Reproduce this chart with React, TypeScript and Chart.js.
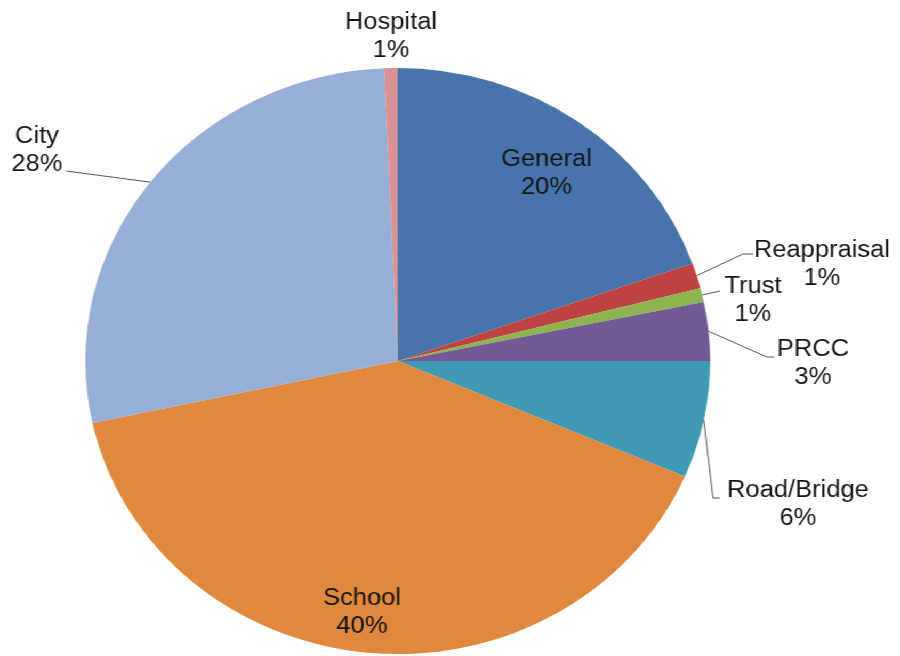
import React, { useEffect, useRef } from "react";
import { Chart, registerables } from "chart.js";

Chart.register(...registerables);

// ---- data ----
const categories = ["General", "Reappraisal", "Trust", "PRCC", "Road/Bridge", "School", "City", "Hospital"];
const values = [19.6, 1.4, 0.77, 3.23, 6.45, 40.15, 27.7, 0.7];
const colors = ["#4874AC", "#BE423F", "#8DB44E", "#735A94", "#409AB5", "#E0883E", "#95AFD7", "#D99396"];

// ---- layout (internal canvas units; canvas is stretched horizontally) ----
const INNER_W = 844;
const INNER_H = 656;
const SX = 900 / INNER_W;
const FONT = "23px 'Liberation Sans', Arial, sans-serif";
const TEXT_SX = 1.04;
const LINE_H = 28;

// label anchor: center x, first baseline y, optional leader path points
const labelAnchors: { x: number; y: number; line?: number[][] }[] = [
  { x: 512.5, y: 166 },
  { x: 770.8, y: 257, line: [[696.7, 254], [706.1, 254]] },
  { x: 706.1, y: 293, line: [[675.2, 291]] },
  { x: 762.4, y: 356, line: [[719.2, 357], [725.8, 357]] },
  { x: 748.3, y: 497, line: [[668.6, 498], [675.2, 498]] },
  { x: 339.5, y: 605 },
  { x: 34.7, y: 143, line: [[61.9, 171]] },
  { x: 366.7, y: 29 },
];

const labelPlugin = {
  id: "pieLabels",
  afterDatasetsDraw(chart: any) {
    const ctx = chart.ctx as CanvasRenderingContext2D;
    const meta = chart.getDatasetMeta(0);
    const total = values.reduce((a, b) => a + b, 0);
    ctx.save();
    meta.data.forEach((arc: any, i: number) => {
      const p = arc.getProps(["x", "y", "startAngle", "endAngle", "outerRadius"], true);
      const mid = (p.startAngle + p.endAngle) / 2;
      const sx = p.x + Math.cos(mid) * p.outerRadius;
      const sy = p.y + Math.sin(mid) * p.outerRadius;
      const a = labelAnchors[i];
      if (a.line) {
        ctx.beginPath();
        ctx.moveTo(sx, sy);
        a.line.forEach((pt) => ctx.lineTo(pt[0], pt[1]));
        ctx.strokeStyle = "#555555";
        ctx.lineWidth = 1;
        ctx.stroke();
      }
      const lines = [categories[i], Math.round((values[i] / total) * 100) + "%"];
      ctx.font = FONT;
      ctx.fillStyle = "#141414";
      ctx.textAlign = "center";
      ctx.textBaseline = "alphabetic";
      lines.forEach((t, k) => {
        ctx.save();
        ctx.translate(a.x, a.y + k * LINE_H);
        ctx.scale(TEXT_SX, 1);
        ctx.fillText(t, 0, 0);
        ctx.restore();
      });
    });
    ctx.restore();
  },
};

export default function App() {
  const ref = useRef<HTMLCanvasElement | null>(null);
  useEffect(() => {
    if (!ref.current) return;
    const chart = new Chart(ref.current, {
      type: "pie",
      data: {
        labels: categories,
        datasets: [
          {
            data: values,
            backgroundColor: colors,
            borderWidth: 0,
          },
        ],
      },
      options: {
        animation: false,
        responsive: true,
        maintainAspectRatio: false,
        layout: { padding: { top: 68, bottom: 2, left: 80, right: 178 } },
        plugins: {
          legend: { display: false },
          tooltip: { enabled: false },
        },
      },
      plugins: [labelPlugin],
    });
    return () => chart.destroy();
  }, []);
  return (
    <div
      style={{
        position: "absolute",
        left: 0,
        top: 0,
        width: INNER_W,
        height: INNER_H,
        transform: `scaleX(${SX})`,
        transformOrigin: "0 0",
        background: "#ffffff",
      }}
    >
      <canvas ref={ref} />
    </div>
  );
}
